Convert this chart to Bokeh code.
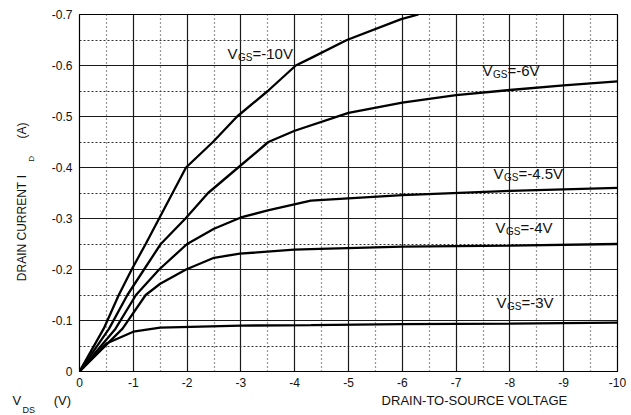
import math
from bokeh.plotting import figure
from bokeh.models import Range1d, FixedTicker, Label, LinearAxis, Title
from bokeh.embed import file_html
from bokeh.resources import INLINE

# ---------------- data ----------------
vds_10 = [0, -0.45, -0.73, -0.97, -1.23, -1.48, -1.73, -1.98, -2.48, -2.93, -3.5, -4.02, -4.29, -4.97, -5.98, -6.3]
id_10 = [0, -0.084, -0.15, -0.2, -0.25, -0.3, -0.35, -0.4, -0.45, -0.5, -0.55, -0.6, -0.614, -0.65, -0.691, -0.7]

vds_6 = [0, -0.55, -0.89, -1.2, -1.51, -1.97, -2.39, -2.95, -3.51, -4.0, -5.0, -6.0, -7.0, -8.0, -9.0, -10.0]
id_6 = [0, -0.084, -0.15, -0.2, -0.25, -0.3, -0.35, -0.4, -0.45, -0.472, -0.507, -0.527, -0.542, -0.552, -0.561, -0.569]

vds_45 = [0, -0.67, -1.05, -1.48, -2.0, -2.5, -3.0, -3.5, -4.3, -6.0, -8.0, -10.0]
id_45 = [0, -0.084, -0.15, -0.2, -0.25, -0.28, -0.302, -0.316, -0.335, -0.346, -0.354, -0.36]

vds_4 = [0, -0.8, -1.23, -1.5, -1.98, -2.5, -2.98, -3.99, -4.3, -6.0, -8.0, -10.0]
id_4 = [0, -0.084, -0.15, -0.172, -0.2, -0.223, -0.231, -0.239, -0.24, -0.245, -0.247, -0.25]

vds_3 = [0, -0.5, -1.0, -1.5, -3.0, -4.3, -6.0, -8.0, -10.0]
id_3 = [0, -0.055, -0.078, -0.086, -0.09, -0.091, -0.093, -0.094, -0.096]

curve_names = ["=-10V", "=-6V", "=-4.5V", "=-4V", "=-3V"]

x_ticks = [0, -1, -2, -3, -4, -5, -6, -7, -8, -9, -10]
x_tick_labels = ["0", "-1", "-2", "-3", "-4", "-5", "-6", "-7", "-8", "-9", "-10"]
y_ticks = [0, -0.1, -0.2, -0.3, -0.4, -0.5, -0.6, -0.7]
y_tick_labels = ["0", "-0.1", "-0.2", "-0.3", "-0.4", "-0.5", "-0.6", "-0.7"]
x_minor = [-0.5, -1.5, -2.5, -3.5, -4.5, -5.5, -6.5, -7.5, -8.5, -9.5]
y_minor = [-0.05, -0.15, -0.25, -0.35, -0.45, -0.55, -0.65]

y_title_parts = ["DRAIN CURRENT", "I", "(A)"]
y_title_sub = "D"
x_title = "DRAIN-TO-SOURCE VOLTAGE"
x_unit_parts = ["V", "(V)"]
x_unit_sub = "DS"

# ---------------- layout ----------------
LEFT, TOP = 79, 14
FW, FH = 538, 357
PX_PER_V = FW / 10.0
PX_PER_A = FH / 0.7
FONT = "Liberation Sans"
INK = "#111111"

p = figure(frame_width=FW, frame_height=FH,
           x_range=Range1d(0, -10), y_range=Range1d(0, -0.7),
           output_backend="svg", toolbar_location=None,
           min_border_left=LEFT, min_border_right=10,
           min_border_top=TOP, min_border_bottom=44)
p.outline_line_color = "black"
p.outline_line_width = 1.2
p.background_fill_color = "white"
p.border_fill_color = "white"

p.xaxis.ticker = FixedTicker(ticks=x_ticks, minor_ticks=x_minor)
p.yaxis.ticker = FixedTicker(ticks=y_ticks, minor_ticks=y_minor)
p.xaxis.major_label_overrides = {t: s for t, s in zip(x_ticks, x_tick_labels)}
p.yaxis.major_label_overrides = {t: s for t, s in zip(y_ticks, y_tick_labels)}
for ax in (p.xaxis, p.yaxis):
    ax.major_tick_in = 0
    ax.major_tick_out = 0
    ax.minor_tick_in = 0
    ax.minor_tick_out = 0
    ax.axis_line_color = "black"
    ax.major_label_text_font = FONT
    ax.major_label_text_font_size = "12px"
    ax.major_label_text_color = INK
p.yaxis.major_label_standoff = 7
p.xaxis.major_label_standoff = 6

p.xgrid.grid_line_color = "#1a1a1a"
p.ygrid.grid_line_color = "#1a1a1a"
p.xgrid.grid_line_width = 1.2
p.ygrid.grid_line_width = 1.2
p.xgrid.minor_grid_line_color = "#333333"
p.ygrid.minor_grid_line_color = "#333333"
p.xgrid.minor_grid_line_dash = "1 3"
p.ygrid.minor_grid_line_dash = "2 2"
p.xgrid.minor_grid_line_width = 1.2
p.ygrid.minor_grid_line_width = 1

curves = [(vds_10, id_10), (vds_6, id_6), (vds_45, id_45), (vds_4, id_4), (vds_3, id_3)]
for xs, ys in curves:
    p.line(xs, ys, line_color="black", line_width=2.3)


def xd(px):
    return -(px - LEFT) / PX_PER_V


def yd(py):
    return -(TOP + FH - py) / PX_PER_A


# curve labels: (left x px, baseline y px)
label_pos = [(227, 53), (482, 70), (493, 173), (495, 227), (496, 302)]
for name, (lx, by) in zip(curve_names, label_pos):
    p.add_layout(Label(x=xd(lx), y=yd(by + 2), text="VGS" + name, text_font=FONT,
                       text_font_size="13px", text_alpha=0, text_baseline="alphabetic",
                       background_fill_color="white", padding=3))
    p.add_layout(Label(x=xd(lx), y=yd(by), text="V", text_font=FONT, text_font_size="15px",
                       text_baseline="alphabetic", text_color=INK))
    p.add_layout(Label(x=xd(lx + 10.5), y=yd(by + 4), text="GS", text_font=FONT, text_font_size="10px",
                       text_baseline="alphabetic", text_color=INK))
    p.add_layout(Label(x=xd(lx + 25), y=yd(by), text=name, text_font=FONT, text_font_size="15px",
                       text_baseline="alphabetic", text_color=INK))


# ---- y title: rotated texts carried by extra (lineless) axes ----
def text_axis(ticks, labels, size, standoff):
    tk = [round(t, 4) for t in ticks]
    ax = LinearAxis(ticker=FixedTicker(ticks=tk, minor_ticks=[]),
                    major_label_overrides={t: s for t, s in zip(tk, labels)},
                    major_label_orientation="vertical",
                    major_label_standoff=standoff,
                    major_label_text_font=FONT,
                    major_label_text_font_size=size,
                    major_label_text_color=INK,
                    axis_line_color=None, major_tick_line_color=None,
                    minor_tick_line_color=None,
                    major_tick_in=0, major_tick_out=0, minor_tick_in=0, minor_tick_out=0)
    p.add_layout(ax, "left")


text_axis([yd(158.5)], [y_title_sub], "8px", 12)
text_axis([yd(231), yd(176), yd(130)], y_title_parts, "12px", -5)

# ---- x title row (one line, spaced with no-break spaces) + subscript row ----
ROW_PX = 13
NBSP_W = 0.278 * ROW_PX
n1 = int(round((55 - 12 - 0.667 * ROW_PX) / NBSP_W))
w_unit = 12 + 0.667 * ROW_PX + n1 * NBSP_W + (0.333 * 2 + 0.667) * ROW_PX
n2 = int(round((382 - w_unit) / NBSP_W))
row_text = x_unit_parts[0] + "\u00a0" * n1 + x_unit_parts[1] + "\u00a0" * n2 + x_title

p.add_layout(Title(text=row_text, align="left", offset=12 - LEFT, vertical_align="bottom",
                   standoff=3, text_font=FONT, text_font_size="%dpx" % ROW_PX,
                   text_font_style="normal", text_color=INK), "below")
p.add_layout(Title(text=x_unit_sub, align="left", offset=22 - LEFT, vertical_align="middle",
                   standoff=-20, text_font=FONT, text_font_size="9px",
                   text_font_style="normal", text_color=INK), "below")

open("out.html", "w").write(file_html(p, INLINE))
